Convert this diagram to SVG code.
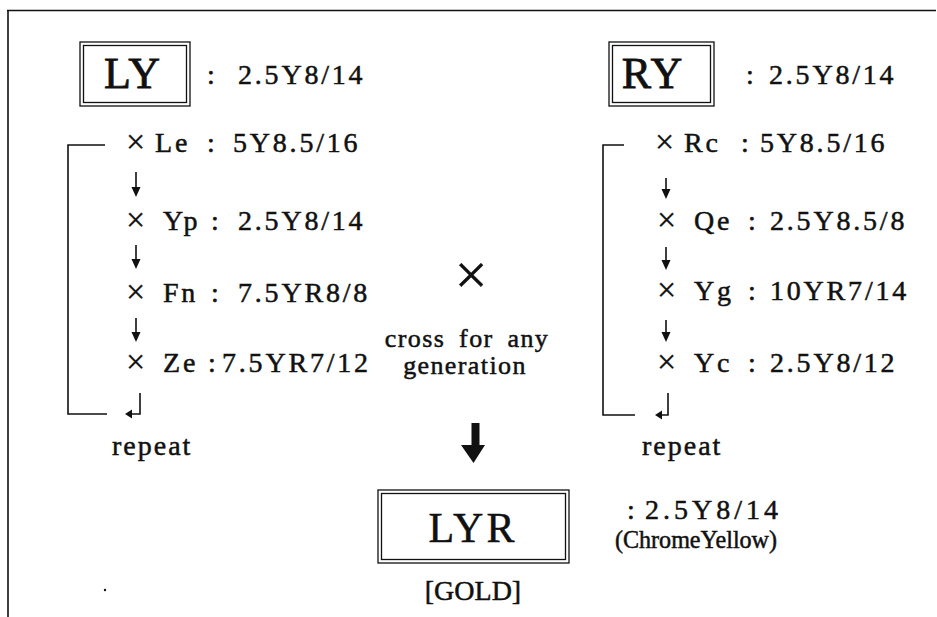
<svg xmlns="http://www.w3.org/2000/svg" width="937" height="617" viewBox="0 0 937 617">
<style>
text{font-family:"Liberation Serif","Times New Roman",serif;fill:#111;stroke:#111;stroke-width:0.5}
.t{font-size:28px;letter-spacing:2.8px}
.x{font-size:34px;stroke-width:0.3}
.h{font-size:44px;stroke-width:0.8}
.m{font-size:26px;letter-spacing:1.4px;word-spacing:6px}
.r{font-size:28px;letter-spacing:2px}
.box{fill:none;stroke:#111;stroke-width:1.3}
.ln{fill:none;stroke:#111;stroke-width:1.6}
.ah{fill:#111;stroke:none}
</style>
<rect width="937" height="617" fill="#fff"/>
<g id="frame">
<path class="ln" d="M7 10.5H936M8 10V617" stroke-width="1.8"/>
<circle cx="105" cy="590" r="1.2" fill="#111"/>
</g>
<g id="node-LY">
<rect class="box" x="80" y="42" width="110" height="64"/>
<rect class="box" x="83.5" y="45.5" width="103" height="57"/>
<text class="h" x="133" y="88" text-anchor="middle" letter-spacing="2">LY</text>
<text class="t" x="207" y="84">:</text>
<text class="t" x="238" y="84">2.5Y8/14</text>
</g>
<g id="node-RY">
<rect class="box" x="609" y="42" width="105" height="64"/>
<rect class="box" x="612.5" y="45.5" width="98" height="57"/>
<text class="h" x="653" y="88" text-anchor="middle" letter-spacing="2">RY</text>
<text class="t" x="746" y="84">:</text>
<text class="t" x="769" y="84">2.5Y8/14</text>
</g>
<g id="left-chain">
<text class="x" x="126" y="153">×</text><text class="t" x="155" y="152">Le</text><text class="t" x="207" y="152">:</text><text class="t" x="233" y="152">5Y8.5/16</text>
<text class="x" x="126" y="231">×</text><text class="t" x="163" y="230">Yp</text><text class="t" x="211" y="230">:</text><text class="t" x="238" y="230">2.5Y8/14</text>
<text class="x" x="126" y="303">×</text><text class="t" x="163" y="302">Fn</text><text class="t" x="211" y="302">:</text><text class="t" x="238" y="302">7.5YR8/8</text>
<text class="x" x="126" y="373">×</text><text class="t" x="163" y="372">Ze</text><text class="t" x="208" y="372">:</text><text class="t" x="222" y="372">7.5YR7/12</text>
<text class="r" x="112" y="455">repeat</text>
</g>
<g id="right-chain">
<text class="x" x="655" y="153">×</text><text class="t" x="684" y="152">Rc</text><text class="t" x="741" y="152">:</text><text class="t" x="760" y="152">5Y8.5/16</text>
<text class="x" x="657" y="231">×</text><text class="t" x="694" y="230">Qe</text><text class="t" x="748" y="230">:</text><text class="t" x="770" y="230">2.5Y8.5/8</text>
<text class="x" x="657" y="301">×</text><text class="t" x="694" y="300">Yg</text><text class="t" x="748" y="300">:</text><text class="t" x="770" y="300">10YR7/14</text>
<text class="x" x="657" y="373">×</text><text class="t" x="694" y="372">Yc</text><text class="t" x="748" y="372">:</text><text class="t" x="770" y="372">2.5Y8/12</text>
<text class="r" x="642" y="455">repeat</text>
</g>
<g id="cross-label">
<text x="471" y="294" font-size="58" text-anchor="middle" stroke-width="0.2">×</text>
<text class="m" x="467" y="347" text-anchor="middle">cross for any</text>
<text class="m" x="465" y="374" text-anchor="middle">generation</text>
</g>
<g id="node-LYR">
<rect class="box" x="378" y="490" width="191" height="73"/>
<rect class="box" x="381.5" y="493.5" width="184" height="66"/>
<text x="473" y="542" font-size="42" letter-spacing="3" text-anchor="middle" stroke-width="0.7">LYR</text>
<text x="627" y="519" font-size="28">:</text>
<text x="645" y="519" font-size="28" letter-spacing="4">2.5Y8/14</text>
<text x="615" y="548" font-size="25" textLength="162" lengthAdjust="spacingAndGlyphs">(ChromeYellow)</text>
<text x="473" y="600" font-size="28" text-anchor="middle">[GOLD]</text>
</g>
<g id="connectors">
<path class="ln" d="M136 172V189M136 245V261M136 318V334"/>
<path class="ah" d="M131.5 187L140.5 187L136 197ZM131.5 259L140.5 259L136 269ZM131.5 332L140.5 332L136 342Z"/>
<path class="ln" d="M666 178V191M666 247V262M666 320V334"/>
<path class="ah" d="M661.5 189L670.5 189L666 199ZM661.5 260L670.5 260L666 270ZM661.5 332L670.5 332L666 342Z"/>
<path class="ln" d="M105 145H68V414H107"/>
<path class="ln" d="M140 393V414H131"/>
<path class="ah" d="M132 409.5L132 418.5L125 414Z"/>
<path class="ln" d="M624 145H603V415H635"/>
<path class="ln" d="M668 393V415H661"/>
<path class="ah" d="M662 410.5L662 419.5L655 415Z"/>
<path class="ah" d="M471.5 423H479.5V445H485L473.5 463L461 445H471.5Z"/>
</g>
</svg>
